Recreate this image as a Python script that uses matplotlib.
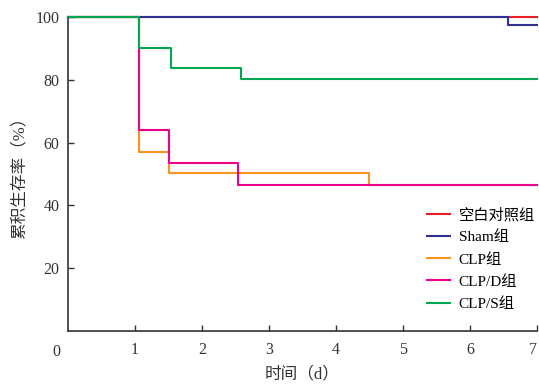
import matplotlib
matplotlib.use("Agg")
import matplotlib.pyplot as plt

plt.rcParams['font.family'] = ['Liberation Serif', 'Noto Sans CJK SC', 'DejaVu Sans']

groups = ["空白对照组", "Sham组", "CLP组", "CLP/D组", "CLP/S组"]
colors = ["#ec1c24", "#2e3192", "#f7941d", "#ec008c", "#00a651"]

times_ctrl = [0, 7]
surv_ctrl = [100, 100]

times_sham = [0, 6.57, 7]
surv_sham = [100, 97.4, 97.4]

times_clp = [0, 1.06, 1.51, 4.49, 7]
surv_clp = [100, 56.9, 50.3, 46.4, 46.4]

times_clpd = [0, 1.06, 1.51, 2.54, 7]
surv_clpd = [100, 63.9, 53.5, 46.4, 46.4]

times_clps = [0, 1.06, 1.53, 2.58, 7]
surv_clps = [100, 90.0, 83.6, 80.4, 80.4]

series = [(times_ctrl, surv_ctrl), (times_sham, surv_sham), (times_clp, surv_clp),
          (times_clpd, surv_clpd), (times_clps, surv_clps)]

xticks = [1, 2, 3, 4, 5, 6, 7]
yticks = [20, 40, 60, 80, 100]

fig = plt.figure(figsize=(5.39, 3.85), dpi=100)
ax = fig.add_axes([68/539, 1-331/385, (537-68)/539, (331-17)/385])

z = {0: 2, 1: 3, 2: 2, 3: 3, 4: 3}
for i in range(5):
    t, s = series[i]
    ax.step(t, s, where='post', color=colors[i], lw=1.5, label=groups[i], zorder=z[i],
            clip_on=False)

ax.set_xlim(0, 7)
ax.set_ylim(0, 100)
ax.set_xticks(xticks)
ax.set_xticklabels([str(v) for v in xticks])
ax.set_yticks(yticks)
ax.set_yticklabels([str(v) for v in yticks])
ax.tick_params(direction='in', length=4, width=1, labelsize=11.5, colors='#333333')
ax.tick_params(axis='x', pad=8)
ax.tick_params(axis='y', pad=6)
ax.get_xticklabels()[-1].set_horizontalalignment('right')
for sp in ['top', 'right']:
    ax.spines[sp].set_visible(False)
for sp in ['left', 'bottom']:
    ax.spines[sp].set_color('#333333')
    ax.spines[sp].set_linewidth(1.2)

ax.text(-0.024, -0.042, "0", transform=ax.transAxes, ha='center', va='top',
        fontsize=11.5, color='#333333')

ax.set_xlabel("时间（d）", fontsize=12, labelpad=6, color='#333333')
ax.set_ylabel("累积生存率（%）", fontsize=12, labelpad=6, color='#333333')

leg = ax.legend(loc='lower right', bbox_to_anchor=(1.025, 0.02), frameon=False,
                fontsize=11, handlelength=1.5, handletextpad=0.6, labelspacing=0.55)

fig.savefig("out.png", dpi=100)
